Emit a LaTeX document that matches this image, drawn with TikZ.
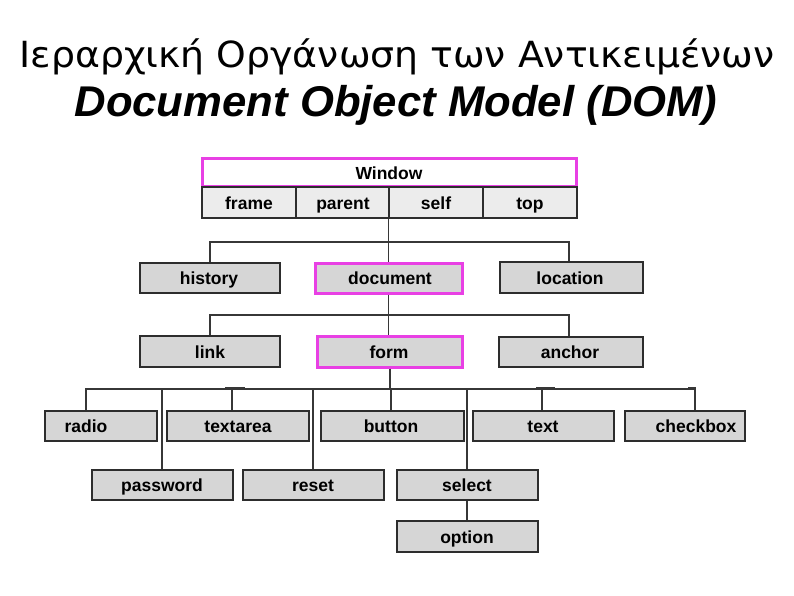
\documentclass[tikz,border=0pt]{standalone}
\usepackage{fontspec}
\setmainfont{Liberation Sans}
\newfontfamily\greekfont{DejaVu Sans}
\definecolor{pinkc}{RGB}{232,64,228}
\definecolor{boxfill}{RGB}{214,214,214}
\definecolor{cellfill}{RGB}{236,236,236}
\definecolor{boxline}{RGB}{45,45,45}
\definecolor{connc}{RGB}{55,55,55}
\tikzset{
  box/.style={draw=boxline, line width=1.4pt, fill=boxfill, inner sep=0pt, minimum height=30pt},
  cell/.style={draw=boxline, line width=1.4pt, fill=cellfill, inner sep=0pt, minimum height=31pt},
  pinkbox/.style={draw=pinkc, line width=3pt, fill=boxfill, inner sep=0pt, minimum height=30pt},
  lbl/.style={font=\fontsize{17.5}{20}\selectfont\bfseries, inner sep=0pt, text height=12.6pt, text depth=3.6pt, yshift=-2pt},
  conn/.style={draw=connc, line width=1.5pt},
  tick/.style={draw=connc, line width=3pt},
}
\begin{document}
\begin{tikzpicture}[x=1pt,y=-1pt]
\useasboundingbox (0,0) rectangle (794,595);
% titles
\node[anchor=base, inner sep=0pt, font=\greekfont\fontsize{36}{40}\selectfont] (title1) at (397,67) {\resizebox{755pt}{\height}{Ιεραρχική Οργάνωση των Αντικειμένων}};
\node[anchor=base, inner sep=0pt, font=\fontsize{43}{48}\selectfont\bfseries\itshape] (title2) at (396,116) {\resizebox{643pt}{\height}{Document Object Model (DOM)}};

% window
\node[pinkbox, fill=white, minimum width=374pt, minimum height=28pt] (window) at (389,172) {};
\node[lbl] (window-t) at (389,173) {Window};
\node[cell, minimum width=94pt] (frame) at (249,202.5) {};
\node[cell, minimum width=93pt] (parent) at (342.5,202.5) {};
\node[cell, minimum width=94pt] (self) at (436,202.5) {};
\node[cell, minimum width=94pt] (top) at (530,202.5) {};
\node[lbl] (frame-t) at (249,203) {frame};
\node[lbl] (parent-t) at (343,203) {parent};
\node[lbl] (self-t) at (436,203) {self};
\node[lbl] (top-t) at (530,203) {top};

% level 2
\node[box, minimum width=140pt] (history) at (210,278) {};
\node[pinkbox, minimum width=147pt] (document) at (388.5,278) {};
\node[box, minimum width=143pt, minimum height=31pt] (location) at (571.5,277.5) {};
\node[lbl] (history-t) at (209,278) {history};
\node[lbl] (document-t) at (390,277.5) {document};
\node[lbl] (location-t) at (570,277.5) {location};

% level 3
\node[box, minimum width=140pt, minimum height=31pt] (link) at (210,351.5) {};
\node[pinkbox, minimum width=145pt, minimum height=31pt] (form) at (389.5,351.5) {};
\node[box, minimum width=144pt] (anchor) at (571,352) {};
\node[lbl] (link-t) at (210,352) {link};
\node[lbl] (form-t) at (389,352) {form};
\node[lbl] (anchor-t) at (570,352) {anchor};

% level 4
\node[box, minimum width=112pt] (radio) at (101,426) {};
\node[box, minimum width=142pt] (textarea) at (238,426) {};
\node[box, minimum width=143pt] (button) at (392.5,426) {};
\node[box, minimum width=141pt] (text) at (543.5,426) {};
\node[box, minimum width=120pt] (checkbox) at (685,426) {};
\node[lbl] (radio-t) at (86,426) {radio};
\node[lbl] (textarea-t) at (238,426) {textarea};
\node[lbl] (button-t) at (391,426) {button};
\node[lbl] (text-t) at (543,426) {text};
\node[lbl] (checkbox-t) at (696,426) {checkbox};

\node[box, minimum width=141pt] (password) at (162.5,485) {};
\node[box, minimum width=141pt] (reset) at (313.5,485) {};
\node[box, minimum width=141pt] (select) at (467.5,485) {};
\node[box, minimum width=141pt, minimum height=31pt] (option) at (467.5,536.5) {};
\node[lbl] (password-t) at (162,485) {password};
\node[lbl] (reset-t) at (313,485) {reset};
\node[lbl] (select-t) at (467,485) {select};
\node[lbl] (option-t) at (467,537) {option};

% connectors: window -> level 2
\coordinate (busA-l) at (210,242);
\coordinate (busA-r) at (569,242);
\draw[conn] (self.south west) -- (self.south west |- document.north);
\draw[conn] (busA-l |- history.north) -- (busA-l) -- (busA-r) -- (busA-r |- location.north);

% document -> level 3
\coordinate (busB-l) at (210,315);
\coordinate (busB-r) at (569,315);
\draw[conn] (self.south west |- document.south) -- (self.south west |- form.north);
\draw[conn] (busB-l |- link.north) -- (busB-l) -- (busB-r) -- (busB-r |- anchor.north);

% form -> level 4
\coordinate (busC-l) at (86,389);
\coordinate (busC-r) at (695,389);
\coordinate (fm) at (390,389);
\draw[conn] (fm |- form.south) -- (fm);
\draw[conn] (busC-l |- radio.north) -- (busC-l) -- (busC-r) -- (busC-r |- checkbox.north);
\coordinate (dp) at (162,389);
\coordinate (dt) at (232,389);
\coordinate (dr) at (313,389);
\coordinate (db) at (391,389);
\coordinate (ds) at (467,389);
\coordinate (dx) at (542,389);
\draw[conn] (dp) -- (dp |- password.north);
\draw[conn] (dt) -- (dt |- textarea.north);
\draw[conn] (dr) -- (dr |- reset.north);
\draw[conn] (db) -- (db |- button.north);
\draw[conn] (ds) -- (ds |- select.north);
\draw[conn] (dx) -- (dx |- text.north);
\draw[conn] (ds |- select.south) -- (ds |- option.north);
% small thick marks on the bus
\draw[tick] (225,388) -- (245,388);
\draw[tick] (536,388) -- (555,388);
\draw[tick] (688,388) -- (696,388);
\end{tikzpicture}
\end{document}
